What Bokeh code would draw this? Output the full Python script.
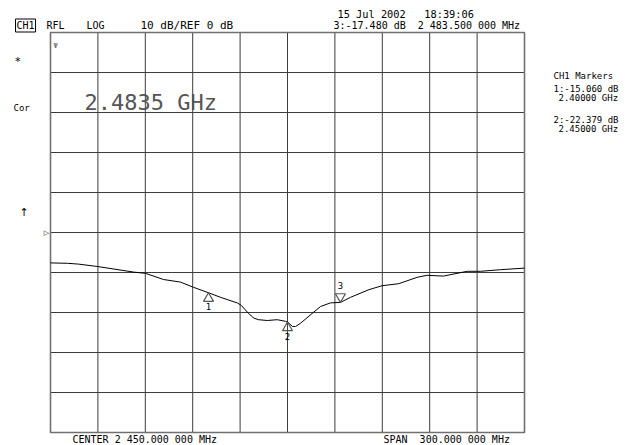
from bokeh.plotting import figure
from bokeh.models import Label, Range1d
from bokeh.embed import file_html
from bokeh.resources import INLINE
from bokeh.core.properties import value

# ---------------- data ----------------
freq_mhz = [2300, 2310.8, 2317.7, 2329.7, 2352.7, 2360.1, 2371.5, 2382.3, 2390.5,
            2400, 2407.6, 2418.2, 2420.7, 2425.5, 2428.7, 2431.6, 2437.2, 2443.5,
            2448.7, 2450, 2453.2, 2455.1, 2458.2, 2466.6, 2470.9, 2477.2, 2483.5,
            2489.9, 2501.5, 2509.9, 2520.4, 2532.1, 2538.4, 2548.7, 2563.7, 2572.2,
            2584.8, 2600]
trace_db = [-7.6, -7.7, -7.9, -8.5, -9.9, -10.2, -11.75, -12.4, -13.7,
            -15.06, -16.2, -17.6, -18.2, -20.3, -21.4, -21.8, -22.0, -21.8,
            -22.2, -22.379, -23.5, -23.5, -22.7, -19.9, -18.5, -17.6, -17.48,
            -16.2, -14.3, -13.3, -12.8, -11.2, -10.7, -10.9, -9.7, -9.7,
            -9.3, -8.9]

marker_ids = ["1", "2", "3"]
marker_freq_mhz = [2400.0, 2450.0, 2483.5]
marker_db = [-15.060, -22.379, -17.480]

x_grid_mhz = [2330, 2360, 2390, 2420, 2450, 2480, 2510, 2540, 2570]
y_grid_db = [-40, -30, -20, -10, 0, 10, 20, 30, 40]
x_start, x_end = 2300, 2600
y_start, y_end = -50, 50

# ---------------- layout ----------------
W, H = 637, 445
FL, FT, FW, FH = 50, 32, 474, 400   # graticule box in page pixels
PX_PER_DB = FH / (y_end - y_start)
NB = "\u00a0"

def X(px):
    return x_start + (px - FL) / FW * (x_end - x_start)

def Y(py):
    return y_end - (py - FT) / FH * (y_end - y_start)

p = figure(width=W, height=H, output_backend="svg", toolbar_location=None,
           x_range=Range1d(X(0), X(W)), y_range=Range1d(Y(H), Y(0)),
           x_axis_location=None, y_axis_location=None,
           min_border_left=0, min_border_right=0, min_border_top=0, min_border_bottom=0)
p.background_fill_color = "white"
p.border_fill_color = "white"
p.outline_line_color = None
p.grid.visible = False

grid_col = "#3c3c3c"
p.segment(x0=x_grid_mhz, y0=[y_start] * len(x_grid_mhz), x1=x_grid_mhz,
          y1=[y_end] * len(x_grid_mhz), line_color=grid_col, line_width=1)
p.segment(x0=[x_start] * len(y_grid_db), y0=y_grid_db, x1=[x_end] * len(y_grid_db),
          y1=y_grid_db, line_color=grid_col, line_width=1)
p.quad(left=[x_start], right=[x_end], bottom=[y_start], top=[y_end], fill_color=None,
       line_color="#707070", line_width=1.6)

p.line(freq_mhz, trace_db, line_color="black", line_width=1)

# markers: 1,2 normal (triangle below trace), 3 active (inverted, above trace)
tri_size = 10
off_db = (tri_size / 2 * 3 ** 0.5 * 2 / 3) / PX_PER_DB
p.scatter(marker_freq_mhz[:2], [v - off_db for v in marker_db[:2]], marker="triangle",
          size=tri_size, fill_color=None, line_color="#555555", line_width=1.2)
p.scatter([marker_freq_mhz[2]], [marker_db[2] + off_db], marker="inverted_triangle",
          size=tri_size, fill_color=None, line_color="#555555", line_width=1.2)

mono = value("DejaVu Sans Mono")
p.text(marker_freq_mhz[:2], marker_db[:2], text=marker_ids[:2], text_font=mono,
       text_font_size="9px", text_align="center", text_baseline="middle",
       y_offset=14, text_color="black")
p.text([marker_freq_mhz[2]], [marker_db[2]], text=[marker_ids[2]], text_font=mono,
       text_font_size="9px", text_align="center", text_baseline="middle",
       y_offset=-17, text_color="black")

def lab(px, py, txt, size="10px", align="left", color="black", font="DejaVu Sans Mono", **kw):
    p.add_layout(Label(x=X(px), y=Y(py), text=txt.replace("  ", NB + NB), text_font=font,
                       text_font_size=size, text_align=align, text_baseline="middle",
                       text_color=color, **kw))

# header
lab(337, 13, "15 Jul 2002   18:39:06", size="10.3px")
lab(15, 25, "CH1", border_line_color="black", border_line_width=1, padding=1)
lab(46, 25, "RFL")
lab(86, 25, "LOG")
lab(140, 25, "10 dB/REF 0 dB", size="11px")
lab(333, 25, "3:-17.480 dB  2 483.500 000 MHz", size="10px")

# left annunciators
lab(14, 61, "*", size="11px", color="#000000")
lab(13, 107, "Cor", size="9px")
lab(19, 212, "↑", size="11px", font="DejaVu Sans")
p.add_layout(Label(x=X(46), y=0, text="▷", text_font="DejaVu Sans", text_font_size="7px",
                   text_align="center", text_baseline="middle", text_color="#000000"))
lab(53, 45, "Ψ", size="7px", color="#555555")

# big active-marker frequency
lab(84, 102, "2.4835 GHz", size="22px", color="#555555")

# marker table
lab(553, 75, "CH1 Markers", size="9px")
lab(553, 88, "1:-15.060 dB", size="9px")
lab(558, 97, "2.40000 GHz", size="9px")
lab(553, 119, "2:-22.379 dB", size="9px")
lab(558, 128, "2.45000 GHz", size="9px")

# footer
lab(72, 439, "CENTER 2 450.000 000 MHz", size="10px")
lab(383, 439, "SPAN  300.000 000 MHz", size="10px")

open("out.html", "w").write(file_html(p, INLINE))
